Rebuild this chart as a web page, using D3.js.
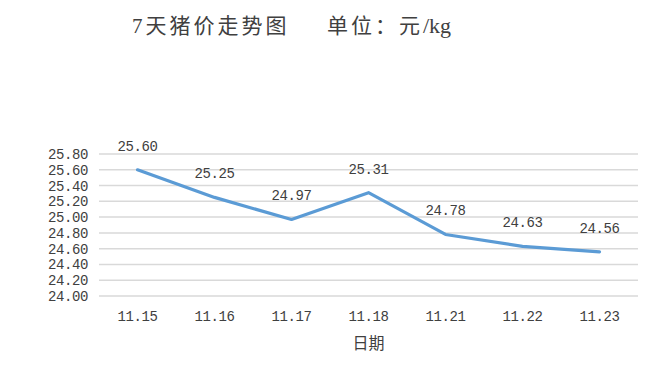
<!DOCTYPE html>
<html>
<head>
<meta charset="utf-8">
<script src="https://cdn.jsdelivr.net/npm/d3@7"></script>
<style>
    body { margin: 0; background: #fff; }
    svg { display: block; }
    .num { font-family: "Liberation Mono", "DejaVu Sans Mono", monospace; font-size: 14px; letter-spacing: -0.4px; fill: #404040; }
    .cjk { font-family: "Liberation Serif", "Noto Sans CJK SC", serif; fill: #404040; }
</style>
</head>
<body>
<div id="chart"></div>
<script>
const dates = ['11.15', '11.16', '11.17', '11.18', '11.21', '11.22', '11.23'];
const prices = [25.60, 25.25, 24.97, 25.31, 24.78, 24.63, 24.56];
const yTicks = [24.00, 24.20, 24.40, 24.60, 24.80, 25.00, 25.20, 25.40, 25.60, 25.80];

const width = 664, height = 389;
const margin = {left: 99, right: 26, top: 154, bottom: 93};

const svg = d3.select('#chart').append('svg')
    .attr('width', width)
    .attr('height', height);

const x = d3.scaleBand()
    .domain(dates)
    .range([margin.left, width - margin.right]);

const y = d3.scaleLinear()
    .domain([24.0, 25.8])
    .range([height - margin.bottom, margin.top]);

// gridlines
svg.append('g')
    .selectAll('line')
    .data(yTicks)
    .enter()
    .append('line')
    .attr('x1', margin.left)
    .attr('x2', width - margin.right)
    .attr('y1', d => y(d))
    .attr('y2', d => y(d))
    .attr('stroke', '#d9d9d9')
    .attr('stroke-width', 1.5);

// y axis labels
const yAxis = svg.append('g')
    .attr('transform', 'translate(' + margin.left + ',0)')
    .call(d3.axisLeft(y).tickValues(yTicks).tickSize(0).tickPadding(11).tickFormat(d3.format('.2f')));
yAxis.select('.domain').remove();
yAxis.selectAll('text').attr('class', 'num').attr('fill', null).attr('font-family', null).attr('font-size', null);

// x axis labels
const xAxis = svg.append('g')
    .attr('transform', 'translate(0,' + (height - margin.bottom) + ')')
    .call(d3.axisBottom(x).tickSize(0).tickPadding(15));
xAxis.select('.domain').remove();
xAxis.selectAll('text').attr('class', 'num').attr('fill', null).attr('font-family', null).attr('font-size', null);

// line
const line = d3.line()
    .x((d, i) => x(dates[i]) + x.bandwidth() / 2)
    .y(d => y(d));

svg.append('path')
    .datum(prices)
    .attr('fill', 'none')
    .attr('stroke', '#5b9bd5')
    .attr('stroke-width', 3.2)
    .attr('stroke-linejoin', 'round')
    .attr('stroke-linecap', 'round')
    .attr('d', line);

// data labels
svg.append('g')
    .selectAll('text')
    .data(prices)
    .enter()
    .append('text')
    .attr('class', 'num')
    .attr('text-anchor', 'middle')
    .attr('x', (d, i) => x(dates[i]) + x.bandwidth() / 2)
    .attr('y', d => y(d) - 19)
    .text(d => d3.format('.2f')(d));

// axis title
svg.append('text')
    .attr('class', 'cjk')
    .attr('text-anchor', 'middle')
    .attr('x', (margin.left + width - margin.right) / 2)
    .attr('y', 349)
    .attr('font-size', 16)
    .text('日期');

// chart title
svg.append('text')
    .attr('class', 'cjk')
    .attr('x', 132)
    .attr('y', 33)
    .attr('font-size', 21)
    .attr('letter-spacing', 3)
    .text('7天猪价走势图');
const unit = svg.append('text')
    .attr('class', 'cjk')
    .attr('x', 327)
    .attr('y', 33)
    .attr('font-size', 21);
unit.append('tspan').attr('letter-spacing', 3).text('单位：元');
unit.append('tspan').attr('font-size', 22).text('/kg');
</script>
</body>
</html>
